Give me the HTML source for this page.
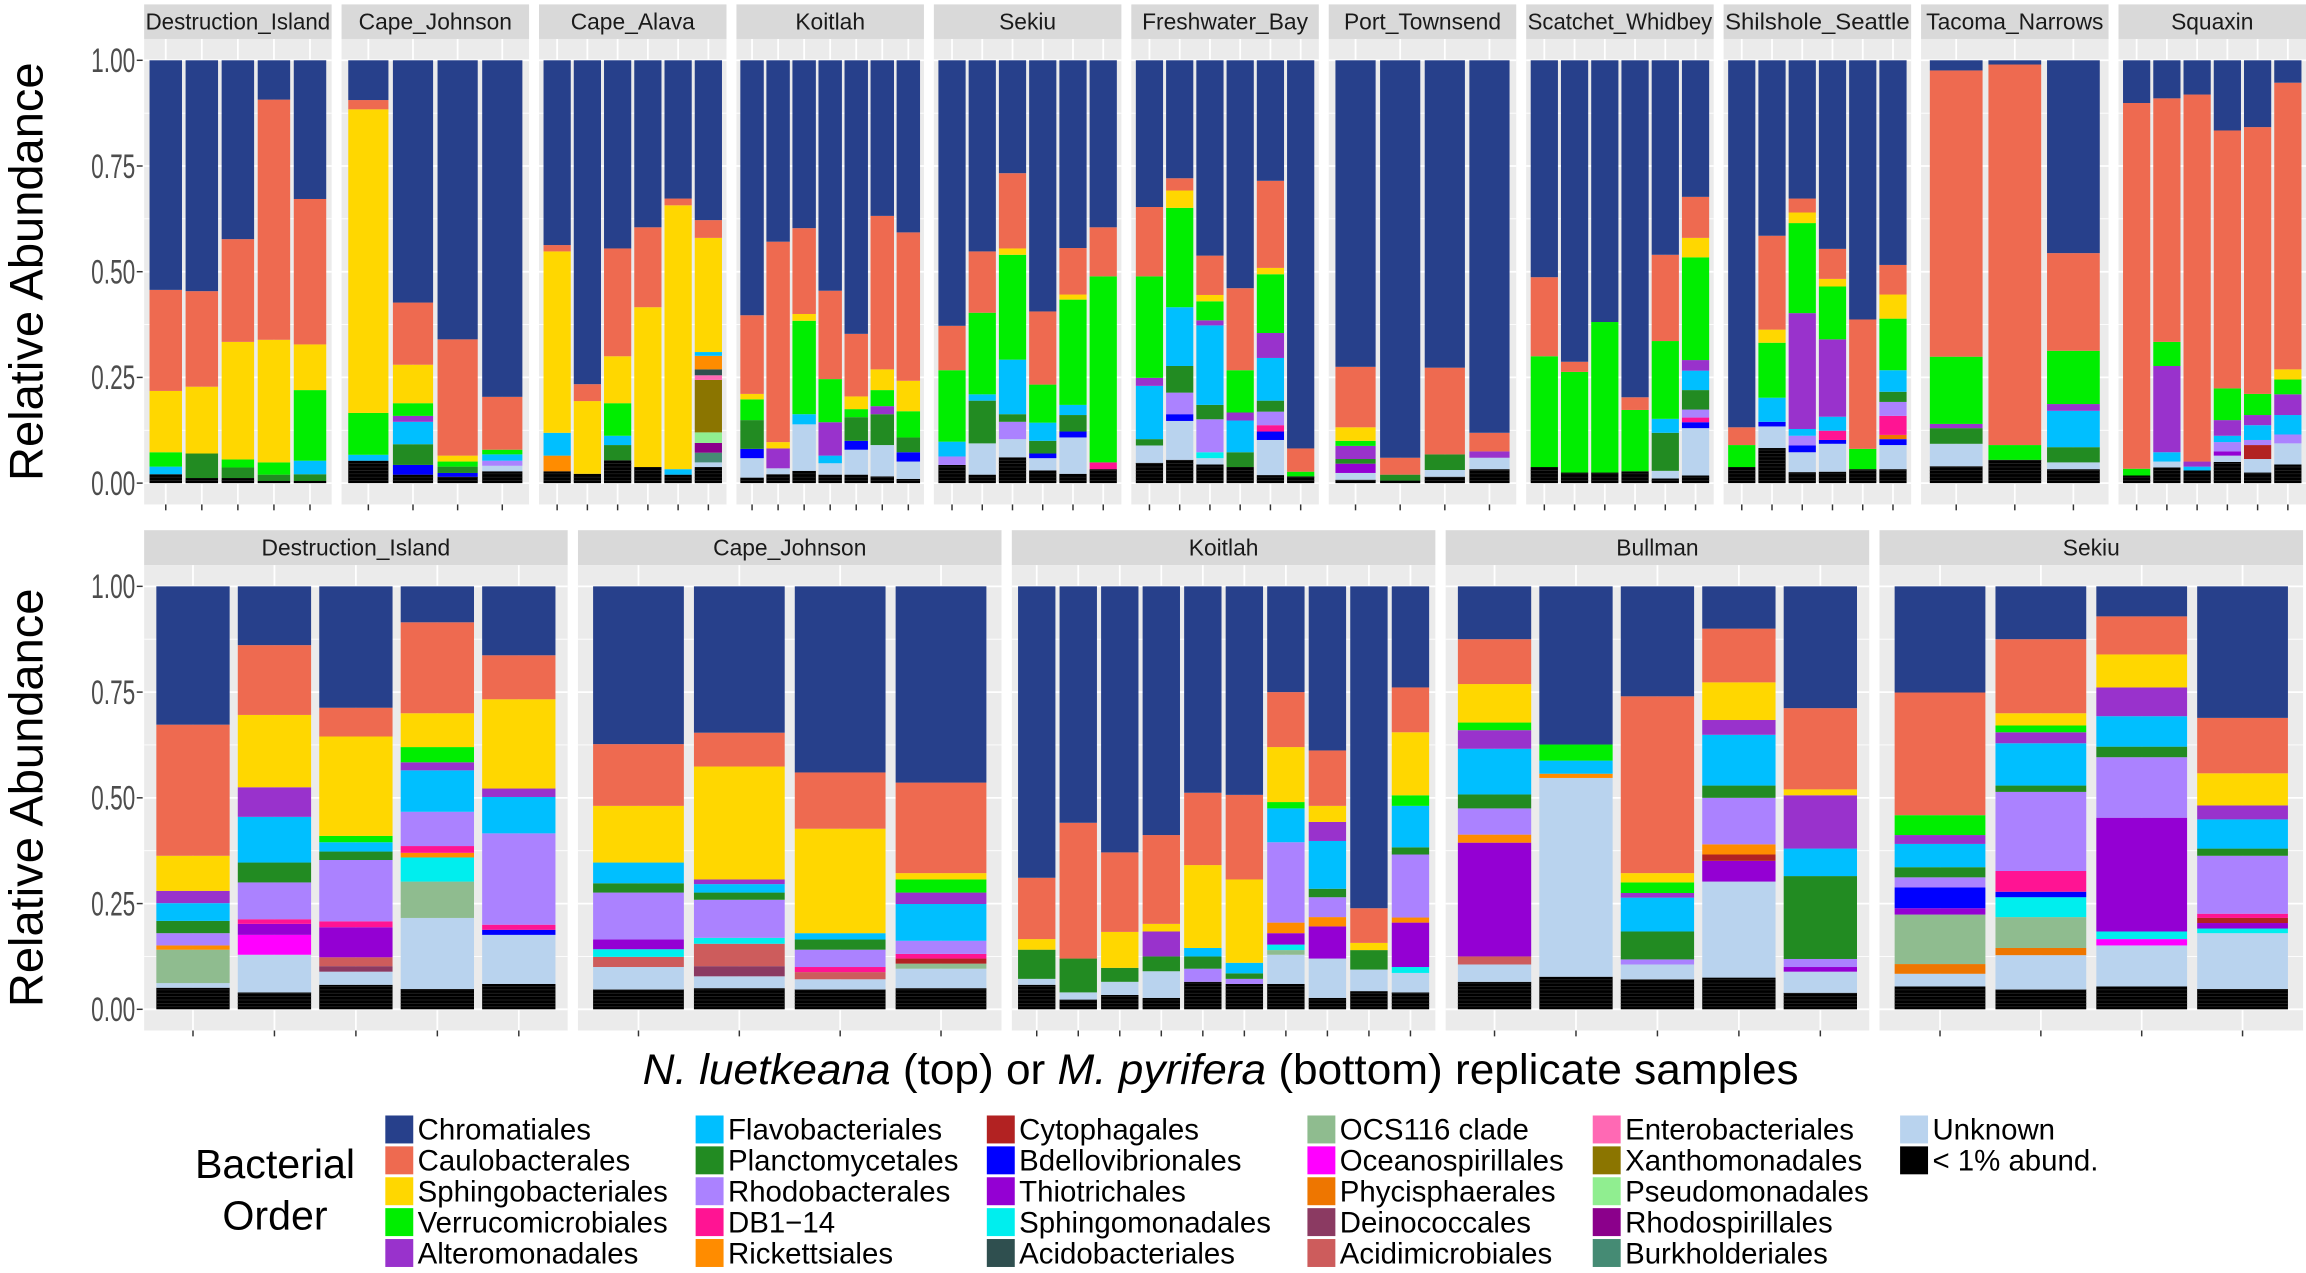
<!DOCTYPE html>
<html><head><meta charset="utf-8"><style>
html,body{margin:0;padding:0;background:#fff;}
svg{display:block;font-family:"Liberation Sans",Arial,sans-serif;}
</style></head><body>
<svg id="chart" width="2306" height="1273" viewBox="0 0 1568 865.6" preserveAspectRatio="none" xmlns="http://www.w3.org/2000/svg"></svg>
<script>
const orderCodes=["Ch","Ca","Sp","Ve","Al","Fl","Pl","Rb","DB","Ri","Cy","Bd","Th","Sm","Ac","OC","Oc","Ph","De","Am","En","Xa","Ps","Rs","Bu","Un","Lo"];
const orderNames=["Chromatiales","Caulobacterales","Sphingobacteriales","Verrucomicrobiales","Alteromonadales","Flavobacteriales","Planctomycetales","Rhodobacterales","DB1\u221214","Rickettsiales","Cytophagales","Bdellovibrionales","Thiotrichales","Sphingomonadales","Acidobacteriales","OCS116 clade","Oceanospirillales","Phycisphaerales","Deinococcales","Acidimicrobiales","Enterobacteriales","Xanthomonadales","Pseudomonadales","Rhodospirillales","Burkholderiales","Unknown","< 1% abund."];
const orderColors=["#27408B","#EE6A50","#FFD700","#00EE00","#9932CC","#00BFFF","#228B22","#AB82FF","#FF1493","#FF8C00","#B22222","#0000FF","#9400D3","#00EEEE","#2F4F4F","#8FBC8F","#FF00FF","#EE7600","#8B3A62","#CD5C5C","#FF69B4","#8B7500","#90EE90","#8B008B","#458B74","#B9D3EE","#000000"];
const yTicks=[0,0.25,0.5,0.75,1];
const yTickLabels=["0.00","0.25","0.50","0.75","1.00"];
const topSites=["Destruction_Island","Cape_Johnson","Cape_Alava","Koitlah","Sekiu","Freshwater_Bay","Port_Townsend","Scatchet_Whidbey","Shilshole_Seattle","Tacoma_Narrows","Squaxin"];
const topBars=[
["Lo .021 Fl .018 Ve .034 Sp .145 Ca .239 Ch .543","Lo .012 Pl .058 Sp .158 Ca .226 Ch .546","Lo .012 Pl .025 Ve .019 Sp .278 Ca .243 Ch .423","Lo .005 Pl .015 Ve .029 Sp .29 Ca .568 Ch .093","Lo .005 Pl .016 Fl .032 Ve .167 Sp .108 Ca .344 Ch .328"],
["Lo .053 Fl .014 Ve .099 Sp .718 Ca .022 Ch .094","Lo .02 Bd .023 Pl .049 Fl .053 Al .014 Ve .03 Sp .091 Ca .147 Ch .573","Lo .015 Bd .009 Pl .015 Ve .012 Sp .014 Ca .275 Ch .66","Lo .028 Un .013 Rb .012 Fl .015 Ve .011 Ca .125 Ch .796"],
["Lo .028 Ri .037 Fl .054 Sp .429 Ca .015 Ch .437","Lo .022 Sp .172 Ca .04 Ch .766","Lo .054 Pl .036 Fl .022 Ve .077 Sp .111 Ca .255 Ch .445","Lo .038 Sp .378 Ca .189 Ch .395","Lo .02 Fl .013 Sp .624 Ca .016 Ch .327","Lo .038 Un .011 Bu .023 Rs .023 Ps .025 Xa .124 En .011 Ac .014 Ri .032 Fl .009 Sp .27 Ca .042 Ch .378"],
["Lo .013 Un .046 Bd .022 Pl .068 Ve .049 Sp .013 Ca .186 Ch .603","Lo .021 Un .014 Al .047 Sp .015 Ca .474 Ch .429","Lo .029 Un .11 Fl .024 Ve .221 Sp .016 Ca .203 Ch .397","Lo .02 Un .027 Fl .018 Al .079 Ve .102 Ca .209 Ch .545","Lo .02 Un .059 Bd .021 Pl .056 Ve .019 Sp .03 Ca .148 Ch .647","Lo .016 Un .074 Pl .073 Al .019 Ve .038 Sp .049 Ca .363 Ch .368","Lo .01 Un .041 Bd .022 Pl .035 Ve .062 Sp .072 Ca .351 Ch .407"],
["Lo .043 Rb .02 Fl .035 Ve .169 Ca .105 Ch .628","Lo .02 Un .074 Pl .101 Fl .015 Ve .193 Ca .145 Ch .452","Lo .061 Un .043 Rb .041 Pl .018 Fl .129 Ve .248 Sp .015 Ca .178 Ch .267","Lo .03 Un .029 Bd .011 Pl .03 Fl .043 Ve .09 Ca .173 Ch .594","Lo .022 Un .086 Bd .014 Pl .039 Fl .024 Ve .249 Sp .012 Ca .11 Ch .444","Lo .033 DB .016 Ve .44 Ca .116 Ch .395"],
["Lo .048 Un .041 Pl .015 Fl .126 Al .019 Ve .24 Ca .164 Ch .347","Lo .055 Un .092 Bd .016 Rb .051 Pl .063 Fl .139 Ve .235 Sp .041 Ca .029 Ch .279","Lo .044 Un .015 Sm .014 Rb .078 Pl .034 Fl .188 Al .012 Ve .045 Sp .015 Ca .093 Ch .462","Lo .038 Pl .035 Fl .075 Al .019 Ve .1 Ca .194 Ch .539","Lo .019 Un .083 Bd .02 DB .015 Rb .032 Pl .026 Fl .101 Al .059 Ve .139 Sp .015 Ca .206 Ch .285","Lo .016 Ve .011 Ca .055 Ch .918"],
["Lo .008 Un .016 Th .022 Pl .011 Al .031 Ve .012 Sp .032 Ca .143 Ch .725","Lo .006 Pl .014 Ca .04 Ch .94","Lo .015 Un .016 Pl .037 Ca .205 Ch .727","Lo .033 Un .027 Al .015 Ca .044 Ch .881"],
["Lo .038 Ve .262 Ca .187 Ch .513","Lo .025 Ve .238 Ca .024 Ch .713","Lo .025 Ve .356 Ch .619","Lo .028 Ve .145 Ca .03 Ch .797","Lo .011 Un .018 Pl .09 Fl .033 Ve .184 Ca .204 Ch .46","Lo .018 Un .112 Bd .014 DB .011 Rb .019 Pl .046 Fl .046 Al .025 Ve .243 Sp .046 Ca .097 Ch .323"],
["Lo .038 Ve .052 Ca .042 Ch .868","Lo .083 Un .051 Bd .011 Fl .057 Ve .13 Sp .031 Ca .222 Ch .415","Lo .026 Un .047 Bd .016 Rb .023 Fl .016 Al .274 Ve .213 Sp .025 Ca .033 Ch .327","Lo .027 Un .066 Bd .009 DB .022 Fl .033 Al .183 Ve .125 Sp .018 Ca .071 Ch .446","Lo .033 Ve .048 Ca .306 Ch .613","Lo .033 Un .057 Bd .014 Ph .01 DB .045 Rb .033 Pl .024 Fl .051 Ve .122 Sp .057 Ca .07 Ch .484"],
["Lo .04 Un .053 Pl .037 Al .01 Ve .159 Ca .677 Ch .024","Lo .055 Ve .035 Ca .9 Ch .01","Lo .033 Un .016 Pl .036 Fl .086 Al .016 Ve .126 Ca .231 Ch .456"],
["Lo .018 Ve .016 Ca .865 Ch .101","Lo .037 Un .014 Fl .022 Al .204 Ve .057 Ca .576 Ch .09","Lo .03 Fl .009 Al .012 Ca .868 Ch .081","Lo .05 Un .015 Th .01 Rb .022 Fl .015 Al .037 Ve .075 Ca .61 Ch .166","Lo .025 Un .032 Cy .033 Rb .012 Fl .035 Al .024 Ve .05 Ca .631 Ch .158","Lo .044 Un .05 Rb .021 Fl .046 Al .049 Ve .035 Sp .024 Ca .678 Ch .053"]
];
const bottomSites=["Destruction_Island","Cape_Johnson","Koitlah","Bullman","Sekiu"];
const bottomBars=[
["Lo .051 Un .011 OC .079 Ri .01 Rb .029 Pl .029 Fl .042 Al .029 Sp .083 Ca .31 Ch .327","Lo .04 Un .089 Oc .047 Th .026 DB .011 Rb .087 Pl .047 Fl .108 Al .07 Sp .171 Ca .165 Ch .139","Lo .058 Un .031 De .013 Am .021 Th .071 DB .014 Rb .145 Pl .02 Fl .022 Ve .015 Sp .235 Ca .068 Ch .287","Lo .048 Un .168 OC .086 Sm .057 Ri .011 DB .016 Rb .081 Fl .098 Al .019 Ve .036 Sp .08 Ca .215 Ch .085","Lo .06 Un .116 Bd .012 DB .012 Rb .216 Fl .086 Al .02 Sp .211 Ca .104 Ch .163"],
["Lo .047 Un .053 Am .024 Sm .018 Th .023 Rb .111 Pl .022 Fl .049 Sp .134 Ca .146 Ch .373","Lo .05 Un .028 De .024 Am .053 Sm .014 Rb .09 Pl .017 Fl .02 Al .011 Sp .267 Ca .08 Ch .346","Lo .047 Un .024 Am .017 DB .012 Rb .041 Pl .024 Fl .015 Sp .247 Ca .133 Ch .44","Lo .05 Un .046 OC .012 Cy .012 DB .011 Rb .031 Fl .087 Al .027 Ve .031 Sp .015 Ca .214 Ch .464"],
["Lo .058 Un .014 Pl .069 Sp .025 Ca .145 Ch .689","Lo .023 Un .017 Pl .08 Ca .321 Ch .559","Lo .034 Un .031 Pl .033 Sp .085 Ca .188 Ch .629","Lo .027 Un .063 Pl .035 Al .059 Sp .018 Ca .21 Ch .588","Lo .065 Rb .031 Pl .029 Fl .02 Sp .196 Ca .171 Ch .488","Lo .06 Rb .012 Pl .013 Fl .025 Sp .197 Ca .2 Ch .493","Lo .06 Un .069 OC .011 Sm .013 Th .027 Ri .025 Rb .19 Fl .08 Ve .015 Sp .13 Ca .13 Ch .25","Lo .027 Un .093 Th .076 Ri .022 Rb .047 Pl .02 Fl .113 Al .045 Sp .038 Ca .131 Ch .388","Lo .043 Un .051 Pl .046 Sp .017 Ca .082 Ch .761","Lo .04 Un .046 Sm .014 Th .105 Ri .012 Rb .149 Pl .017 Fl .098 Ve .025 Sp .149 Ca .106 Ch .239"],
["Lo .065 Un .041 Am .019 Th .269 Ri .019 Rb .062 Pl .033 Fl .108 Al .044 Ve .018 Sp .091 Ca .106 Ch .125","Lo .077 Un .47 Ri .01 Fl .031 Ve .038 Ch .374","Lo .071 Un .035 Rb .012 Pl .066 Fl .08 Al .011 Ve .025 Sp .022 Ca .418 Ch .26","Lo .075 Un .227 Th .049 Cy .015 Ri .024 Rb .11 Pl .029 Fl .12 Al .035 Sp .089 Ca .127 Ch .1","Lo .039 Un .05 Th .011 Rb .019 Pl .196 Fl .065 Al .126 Sp .014 Ca .192 Ch .288"],
["Lo .054 Un .03 Ph .023 OC .117 Th .015 Bd .049 Rb .024 Pl .024 Fl .055 Al .021 Ve .047 Ca .29 Ch .251","Lo .047 Un .081 Ph .017 OC .073 Sm .047 Bd .013 DB .049 Rb .187 Pl .015 Fl .1 Al .026 Ve .016 Sp .029 Ca .175 Ch .125","Lo .054 Un .097 Oc .015 Sm .018 Th .269 Rb .143 Pl .025 Fl .072 Al .068 Sp .078 Ca .09 Ch .071","Lo .048 Un .132 Sm .011 Th .013 Cy .012 DB .01 Rb .137 Pl .017 Fl .069 Al .033 Sp .076 Ca .131 Ch .311"]
];

const NS="http://www.w3.org/2000/svg";
const svg=document.getElementById('chart');
function mk(tag,attrs,parent){const e=document.createElementNS(NS,tag);for(const k in attrs)e.setAttribute(k,attrs[k]);(parent||svg).appendChild(e);return e;}
function colorOf(code){return orderColors[orderCodes.indexOf(code)];}

function drawRow(sites,bars,cfg){
  const yScale=v=>cfg.y0-(cfg.y0-cfg.y1)*v;
  yTicks.forEach((t,i)=>{
    const y=yScale(t);
    const tk=mk('line',{x1:cfg.x0-5,x2:cfg.x0-1,y1:y,y2:y,stroke:'#333','stroke-width':1});
    
    
    const lb=mk('text',{x:cfg.x0-6,y:y+8,'text-anchor':'end','font-size':23,fill:'#4d4d4d',textLength:30,lengthAdjust:'spacingAndGlyphs'});
    lb.textContent=yTickLabels[i];
    
    
  });
  const ttl=mk('text',{x:0,y:0,'text-anchor':'middle','font-size':32,fill:'#000',transform:`translate(29,${(cfg.y0+cfg.y1)/2}) rotate(-90)`});
  ttl.textContent='Relative Abundance';
  
  
  sites.forEach((site,p)=>{
    const px=cfg.x0+p*cfg.pitch, W=cfg.w;
    const g=mk('g',{});
    
    
    const strip=mk('rect',{x:px,y:cfg.sTop,width:W,height:cfg.pTop-cfg.sTop,fill:'#d9d9d9'},g);
    
    
    const st=mk('text',{x:px+W/2,y:cfg.pTop-6.5,'text-anchor':'middle','font-size':cfg.sFont,fill:'#1a1a1a'},g);
    st.textContent=site;
    if(site.length*cfg.sFont*0.52>W-2){st.setAttribute('textLength',W-2);st.setAttribute('lengthAdjust','spacingAndGlyphs');}
    
    
    const bg=mk('rect',{x:px,y:cfg.pTop,width:W,height:cfg.pBot-cfg.pTop,fill:'#ebebeb'},g);
    
    
    for(let v=0.125;v<1;v+=0.25){mk('line',{x1:px,x2:px+W,y1:yScale(v),y2:yScale(v),stroke:'#fff','stroke-width':0.6},g);}
    yTicks.forEach(t=>{mk('line',{x1:px,x2:px+W,y1:yScale(t),y2:yScale(t),stroke:'#fff','stroke-width':1.2},g);});
    const list=bars[p], n=list.length, unit=W/(n+0.2), bw=unit*0.9;
    list.forEach((s,i)=>{
      const cx=px+(i+0.6)*unit;
      mk('line',{x1:cx,x2:cx,y1:cfg.pTop,y2:cfg.pBot,stroke:'#fff','stroke-width':1.2},g);
      const tk=mk('line',{x1:cx,x2:cx,y1:cfg.pBot,y2:cfg.pBot+4,stroke:'#333','stroke-width':1},g);
      
      
      const bar=mk('g',{},g);
      
      
      const tok=s.split(' ');
      let cum=0;
      for(let k=0;k<tok.length;k+=2){
        const code=tok[k], val=parseFloat(tok[k+1]);
        const yt=yScale(cum+val), yb=yScale(cum);
        const r=mk('rect',{x:cx-bw/2,y:yt,width:bw,height:Math.max(0,yb-yt),fill:colorOf(code)},bar);
        
        
        if(code==='Lo'){
          for(let q=cum+0.006;q<cum+val;q+=0.008){mk('line',{x1:cx-bw/2,x2:cx+bw/2,y1:yScale(q),y2:yScale(q),stroke:'#2a2a2a','stroke-width':0.5},bar);}
        }
        cum+=val;
      }
    });
  });
}
drawRow(topSites,topBars,{x0:98,pitch:134.25,w:127.5,sTop:3,pTop:26.5,pBot:343,y1:41,y0:328.5,sFont:15.5});
drawRow(bottomSites,bottomBars,{x0:98,pitch:295,w:288,sTop:360.5,pTop:384.3,pBot:700.7,y1:398.7,y0:686.3,sFont:15.5});

const xt=mk('text',{x:830,y:737,'text-anchor':'middle','font-size':29,fill:'#000',textLength:786,lengthAdjust:'spacingAndGlyphs'});


xt.innerHTML='<tspan font-style="italic">N. luetkeana</tspan> (top) or <tspan font-style="italic">M. pyrifera</tspan> (bottom) replicate samples';

const lg=mk('g',{});


const lt1=mk('text',{x:187,y:801,'text-anchor':'middle','font-size':28,fill:'#000'},lg);lt1.textContent='Bacterial';


const lt2=mk('text',{x:187,y:836,'text-anchor':'middle','font-size':28,fill:'#000'},lg);lt2.textContent='Order';


const colX=[262,473,671,889,1083,1292];
orderNames.forEach((nm,i)=>{
  const c=Math.floor(i/5), r=i%5;
  const x=colX[c], yc=768+r*21;
  const e=mk('g',{},lg);
  
  
  mk('rect',{x:x,y:yc-9.5,width:19,height:19,fill:orderColors[i]},e);
  const t=mk('text',{x:x+22,y:yc+7,'font-size':20,fill:'#000'},e);
  t.textContent=nm;
});
</script>
</body></html>
